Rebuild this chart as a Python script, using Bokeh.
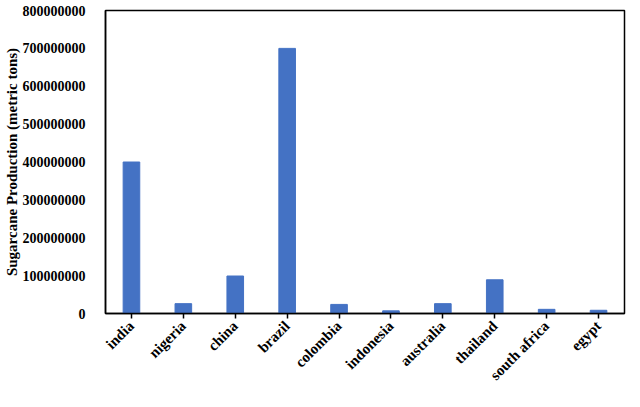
import math
from bokeh.plotting import figure
from bokeh.models import FixedTicker, NumeralTickFormatter, Range1d
from bokeh.embed import file_html
from bokeh.resources import INLINE

countries = ["india", "nigeria", "china", "brazil", "colombia", "indonesia",
             "australia", "thailand", "south africa", "egypt"]
production = [400000000, 26000000, 99000000, 700000000, 24000000, 7000000,
              26000000, 89000000, 11000000, 8500000]
y_ticks = [0, 100000000, 200000000, 300000000, 400000000, 500000000,
           600000000, 700000000, 800000000]

font = "Liberation Serif"

p = figure(x_range=countries, y_range=Range1d(0, 800000000),
           width=628, height=391, output_backend="svg", toolbar_location=None,
           min_border_left=4, min_border_right=4, min_border_top=10, min_border_bottom=10)

p.vbar(x=countries, top=production, width=0.32, color="#4472C4")

p.xgrid.visible = False
p.ygrid.visible = False
p.outline_line_color = "black"
p.outline_line_width = 1.5

p.yaxis.ticker = FixedTicker(ticks=y_ticks)
p.yaxis.formatter = NumeralTickFormatter(format="0")
p.yaxis.axis_label = "Sugarcane Production (metric tons)"
p.yaxis.axis_label_text_font = font
p.yaxis.axis_label_text_font_style = "bold"
p.yaxis.axis_label_text_font_size = "15px"
p.yaxis.axis_label_text_color = "black"
p.yaxis.axis_label_standoff = 0
p.yaxis.major_tick_line_color = None
p.yaxis.minor_tick_line_color = None
p.yaxis.major_label_standoff = 14

for ax in (p.xaxis, p.yaxis):
    ax.axis_line_color = "black"
    ax.axis_line_width = 1.5
    ax.major_label_text_font = font
    ax.major_label_text_font_style = "bold"
    ax.major_label_text_font_size = "14px"
    ax.major_label_text_color = "black"

p.xaxis.major_label_text_font_size = "15px"
p.xaxis.major_label_text_line_height = 0.5
p.xaxis.major_label_orientation = math.pi / 4
p.xaxis.major_tick_line_color = "black"
p.xaxis.major_tick_line_width = 1.5
p.xaxis.major_tick_out = 5
p.xaxis.major_tick_in = 0
p.xaxis.major_label_standoff = 5

open("out.html", "w").write(file_html(p, INLINE))
